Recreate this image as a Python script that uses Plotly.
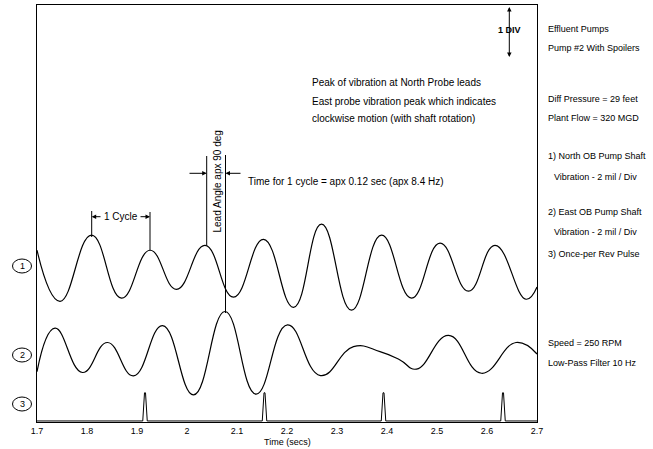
import plotly.graph_objects as go

# ---------------- data ----------------
time_ticks = [1.7, 1.8, 1.9, 2.0, 2.1, 2.2, 2.3, 2.4, 2.5, 2.6, 2.7]

# 1) North OB pump shaft vibration (mil), extrema
north_t = [1.700, 1.746, 1.809, 1.869, 1.926, 1.979, 2.036, 2.093, 2.153, 2.213,
           2.269, 2.329, 2.389, 2.449, 2.506, 2.563, 2.616, 2.678, 2.700]
north_mil = [0.69, -1.27, 1.27, -1.15, 0.69, -0.81, 0.88, -1.11, 1.11, -1.50,
             1.69, -1.61, 1.27, -1.15, 0.96, -0.88, 0.88, -1.19, -0.72]

# 2) East OB pump shaft vibration (mil)
east_t = [1.700, 1.736, 1.791, 1.841, 1.893, 1.951, 2.013, 2.076, 2.138, 2.201,
          2.267, 2.333, 2.386, 2.426, 2.459, 2.523, 2.589, 2.658, 2.700]
east_mil = [-0.53, 1.14, -0.56, 0.59, -0.69, 1.24, -1.42, 1.78, -1.39, 1.27,
            -0.68, 0.43, 0.24, -0.08, -0.43, 0.86, -0.59, 0.59, 0.15]

# 3) Once-per-rev pulse times (s)
pulse_times = [1.916, 2.155, 2.393, 2.632]
pulse_offsets = [-0.0045, -0.001, 0.001, 0.0045]
pulse_shape = [0, 1, 1, 0]

# ---------------- layout constants ----------------
W, H = 653, 449
L, R, T, B = 37, 116, 5, 27
PLOT_TOP, PLOT_BOT = T, H - B
PX_PER_DIV = (PLOT_BOT - PLOT_TOP) / 8.0
MIL_PER_DIV = 2.0
OFF1, OFF2, OFF3, PULSE_H = 2.95, 1.23, 0.02, 0.54
FONT = "Liberation Sans, Arial, sans-serif"


def py2y(py):
    return (PLOT_BOT - py) / PX_PER_DIV


def px2x(px):
    return 1.7 + (px - L) / 500.0


def py2p(py):
    return (PLOT_BOT - py) / (PLOT_BOT - PLOT_TOP)


def px2p(px):
    return (px - L) / 500.0


y1 = [OFF1 + v / MIL_PER_DIV for v in north_mil]
y2 = [OFF2 + v / MIL_PER_DIV for v in east_mil]
px3, py3 = [1.7], [OFF3]
for t in pulse_times:
    for o, s in zip(pulse_offsets, pulse_shape):
        px3.append(t + o)
        py3.append(OFF3 + s * PULSE_H)
px3.append(2.7)
py3.append(OFF3)

fig = go.Figure()
fig.add_trace(go.Scatter(x=north_t, y=y1, mode="lines", line=dict(color="black", width=1.2, shape="spline", smoothing=1.3)))
fig.add_trace(go.Scatter(x=east_t, y=y2, mode="lines", line=dict(color="black", width=1.2, shape="spline", smoothing=1.3)))
fig.add_trace(go.Scatter(x=px3, y=py3, mode="lines", line=dict(color="black", width=1)))

shapes = []
ann = []


def vline(x, py_a, py_b):
    shapes.append(dict(type="line", xref="x", yref="y", x0=x, x1=x, y0=py2y(py_a), y1=py2y(py_b),
                       line=dict(color="black", width=1)))


def arrow(x_head, x_tail, py):
    ann.append(dict(x=x_head, y=py2y(py), ax=x_tail, ay=py2y(py), xref="x", yref="y", axref="x", ayref="y",
                    text="", showarrow=True, arrowhead=2, arrowsize=0.9, arrowwidth=1, arrowcolor="black"))


# 1 Cycle
vline(px2x(91.7), 211, 237)
vline(px2x(150), 212, 250)
arrow(px2x(91.7), px2x(102), 216.7)
arrow(px2x(150), px2x(139), 216.7)
ann.append(dict(x=px2x(120.5), y=py2y(216.7), xref="x", yref="y", text="1 Cycle", showarrow=False,
                font=dict(size=10, color="black", family=FONT)))

# Lead angle
vline(px2x(206.7), 156, 245)
vline(px2x(225.5), 155, 313)
arrow(px2x(206.7), px2x(188), 173.3)
arrow(px2x(225.5), px2x(242), 173.3)
ann.append(dict(x=px2x(216.5), y=py2y(182), xref="x", yref="y", text="Lead Angle apx 90 deg", showarrow=False,
                textangle=-90, font=dict(size=10, color="black", family=FONT)))

# 1 DIV
ann.append(dict(x=px2x(509.3), y=py2y(57), ax=px2x(509.3), ay=py2y(5.5), xref="x", yref="y", axref="x", ayref="y",
                text="", showarrow=True, arrowhead=2, arrowside="end+start", arrowsize=0.9, arrowwidth=1,
                arrowcolor="black"))
ann.append(dict(x=px2x(509.3), y=py2y(29.5), xref="x", yref="y", text="<b>1 DIV</b>", showarrow=False,
                font=dict(size=9, color="black", family=FONT)))

# Text block in plot
for txt, py in [("Peak of vibration at North Probe leads", 83),
                ("East probe vibration peak which indicates", 101),
                ("clockwise motion (with shaft rotation)", 119)]:
    ann.append(dict(x=px2p(310), y=py2p(py), xref="paper", yref="paper", text=txt, showarrow=False,
                    xanchor="left", yanchor="middle", font=dict(size=10, color="black", family=FONT)))
ann.append(dict(x=px2p(246), y=py2p(181), xref="paper", yref="paper",
                text="Time for 1 cycle = apx 0.12 sec (apx 8.4 Hz)", showarrow=False,
                xanchor="left", yanchor="middle", font=dict(size=10, color="black", family=FONT)))

# Right column
right = [("Effluent Pumps", 546, 29), ("Pump #2 With Spoilers", 546, 48),
         ("Diff Pressure = 29 feet", 546, 99), ("Plant Flow = 320 MGD", 546, 118),
         ("1) North OB Pump Shaft", 546, 156), ("Vibration - 2 mil / Div", 552, 177),
         ("2) East OB Pump Shaft", 546, 212), ("Vibration - 2 mil / Div", 552, 232),
         ("3) Once-per Rev Pulse", 546, 254), ("Speed = 250 RPM", 546, 343),
         ("Low-Pass Filter 10 Hz", 546, 363)]
for txt, px, py in right:
    ann.append(dict(x=px2p(px), y=py2p(py), xref="paper", yref="paper", text=txt, showarrow=False,
                    xanchor="left", yanchor="middle", font=dict(size=9, color="black", family=FONT)))

# circled channel labels
for lab, py in [("1", 266), ("2", 355), ("3", 404)]:
    shapes.append(dict(type="circle", xref="paper", yref="paper", x0=px2p(12.5), x1=px2p(31.5),
                       y0=py2p(py + 7), y1=py2p(py - 7), line=dict(color="black", width=1), layer="above"))
    ann.append(dict(x=px2p(22), y=py2p(py), xref="paper", yref="paper", text=lab, showarrow=False,
                    xanchor="center", yanchor="middle", font=dict(size=9, color="black", family=FONT)))

# x title
ann.append(dict(x=0.5, y=py2p(442), xref="paper", yref="paper", text="Time (secs)", showarrow=False,
                yanchor="middle", font=dict(size=9, color="black", family=FONT)))

fig.update_layout(
    width=W, height=H, margin=dict(l=L, r=R, t=T, b=B),
    paper_bgcolor="white", plot_bgcolor="white", showlegend=False,
    shapes=shapes, annotations=ann,
    font=dict(family=FONT, size=9, color="black"),
    xaxis=dict(range=[1.7, 2.7], tickvals=time_ticks, ticks="", showgrid=False, zeroline=False,
               showline=True, mirror=True, linecolor="black", linewidth=1,
               tickfont=dict(size=9, family=FONT, color="black")),
    yaxis=dict(range=[0, 8], showticklabels=False, ticks="", showgrid=False, zeroline=False,
               showline=True, mirror=True, linecolor="black", linewidth=1),
)

fig.write_html("out.html")
